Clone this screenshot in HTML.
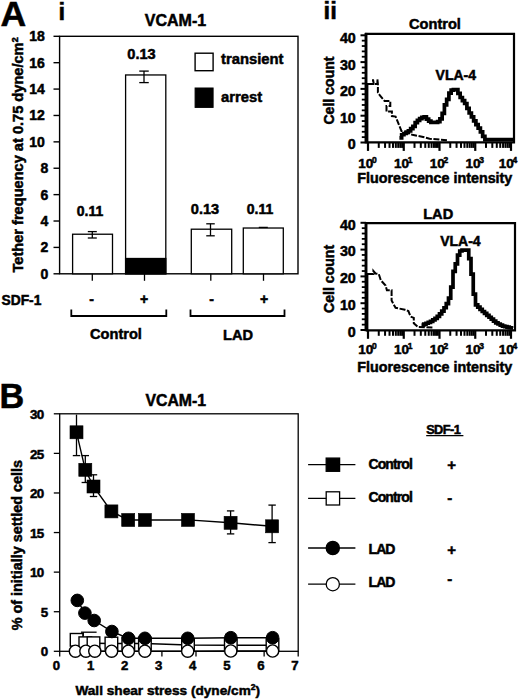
<!DOCTYPE html>
<html><head><meta charset="utf-8"><style>
html,body{margin:0;padding:0;background:#fff;}
svg{display:block;font-family:"Liberation Sans", sans-serif;font-weight:bold;}
</style></head><body>
<svg width="520" height="700" viewBox="0 0 520 700" stroke="#000" fill="#000">
<g stroke="none">
</g>
<g>
<text stroke-width="0.5" x="0.40" y="25.80" font-size="35.6" text-anchor="start" >A</text>
<text stroke-width="0.5" x="58.50" y="19.70" font-size="24" text-anchor="start" >i</text>
<text stroke-width="0.5" x="175.50" y="26.00" font-size="16" text-anchor="middle" >VCAM-1</text>
<rect x="59.6" y="36.3" width="238.4" height="237.5" fill="none" stroke-width="1.4"/>
<line x1="53.50" y1="273.80" x2="59.60" y2="273.80" stroke-width="1.4" />
<text stroke-width="0.5" x="48.20" y="278.80" font-size="14" text-anchor="end" >0</text>
<line x1="53.50" y1="247.41" x2="59.60" y2="247.41" stroke-width="1.4" />
<text stroke-width="0.5" x="48.20" y="252.41" font-size="14" text-anchor="end" >2</text>
<line x1="53.50" y1="221.02" x2="59.60" y2="221.02" stroke-width="1.4" />
<text stroke-width="0.5" x="48.20" y="226.02" font-size="14" text-anchor="end" >4</text>
<line x1="53.50" y1="194.63" x2="59.60" y2="194.63" stroke-width="1.4" />
<text stroke-width="0.5" x="48.20" y="199.63" font-size="14" text-anchor="end" >6</text>
<line x1="53.50" y1="168.24" x2="59.60" y2="168.24" stroke-width="1.4" />
<text stroke-width="0.5" x="48.20" y="173.24" font-size="14" text-anchor="end" >8</text>
<line x1="53.50" y1="141.86" x2="59.60" y2="141.86" stroke-width="1.4" />
<text stroke-width="0.5" x="44.80" y="146.86" font-size="14" text-anchor="end" >10</text>
<line x1="53.50" y1="115.47" x2="59.60" y2="115.47" stroke-width="1.4" />
<text stroke-width="0.5" x="44.80" y="120.47" font-size="14" text-anchor="end" >12</text>
<line x1="53.50" y1="89.08" x2="59.60" y2="89.08" stroke-width="1.4" />
<text stroke-width="0.5" x="44.80" y="94.08" font-size="14" text-anchor="end" >14</text>
<line x1="53.50" y1="62.69" x2="59.60" y2="62.69" stroke-width="1.4" />
<text stroke-width="0.5" x="44.80" y="67.69" font-size="14" text-anchor="end" >16</text>
<line x1="53.50" y1="36.30" x2="59.60" y2="36.30" stroke-width="1.4" />
<text stroke-width="0.5" x="44.80" y="41.30" font-size="14" text-anchor="end" >18</text>
<text stroke-width="0.5" transform="translate(22.6,272.5) rotate(-90)" font-size="14.6">Tether frequency at 0.75 dyne/cm<tspan font-size="9" dx="0.3" dy="-4.8">2</tspan></text>
<rect x="72.60" y="234.22" width="39.90" height="39.58" fill="#fff" stroke-width="1.3" />
<rect x="125.60" y="74.96" width="40.20" height="198.84" fill="#fff" stroke-width="1.3" />
<rect x="191.30" y="229.20" width="40.40" height="44.60" fill="#fff" stroke-width="1.3" />
<rect x="243.30" y="228.02" width="40.00" height="45.78" fill="#fff" stroke-width="1.3" />
<rect x="125.60" y="258.50" width="40.20" height="15.30" fill="#000" stroke-width="1.3" />
<line x1="92.30" y1="231.60" x2="92.30" y2="238.00" stroke-width="1.3" />
<line x1="87.80" y1="231.60" x2="96.80" y2="231.60" stroke-width="1.3" />
<line x1="87.80" y1="238.00" x2="96.80" y2="238.00" stroke-width="1.3" />
<line x1="144.00" y1="71.10" x2="144.00" y2="82.60" stroke-width="1.3" />
<line x1="139.25" y1="71.10" x2="148.75" y2="71.10" stroke-width="1.3" />
<line x1="139.25" y1="82.60" x2="148.75" y2="82.60" stroke-width="1.3" />
<line x1="210.50" y1="223.80" x2="210.50" y2="235.80" stroke-width="1.3" />
<line x1="206.25" y1="223.80" x2="214.75" y2="223.80" stroke-width="1.3" />
<line x1="206.25" y1="235.80" x2="214.75" y2="235.80" stroke-width="1.3" />
<line x1="258.80" y1="227.40" x2="267.80" y2="227.40" stroke-width="1.3" />
<line x1="92.30" y1="273.80" x2="92.30" y2="280.80" stroke-width="1.3" />
<line x1="144.50" y1="273.80" x2="144.50" y2="280.80" stroke-width="1.3" />
<line x1="210.80" y1="273.80" x2="210.80" y2="280.80" stroke-width="1.3" />
<line x1="263.50" y1="273.80" x2="263.50" y2="280.80" stroke-width="1.3" />
<text stroke-width="0.5" x="90.00" y="216.20" font-size="14" text-anchor="middle" >0.11</text>
<text stroke-width="0.5" x="141.50" y="58.80" font-size="14.6" text-anchor="middle" >0.13</text>
<text stroke-width="0.5" x="205.00" y="213.80" font-size="14.6" text-anchor="middle" >0.13</text>
<text stroke-width="0.5" x="260.00" y="213.80" font-size="14" text-anchor="middle" >0.11</text>
<rect x="195.10" y="53.20" width="18.00" height="17.50" fill="#fff" stroke-width="1.4" />
<rect x="195.10" y="88.00" width="18.00" height="19.40" fill="#000" stroke-width="1.0" />
<text stroke-width="0.5" x="221.00" y="63.50" font-size="14.8" text-anchor="start" >transient</text>
<text stroke-width="0.5" x="221.00" y="102.30" font-size="14.8" text-anchor="start" >arrest</text>
<text stroke-width="0.5" x="1.50" y="304.60" font-size="13.8" text-anchor="start" >SDF-1</text>
<text stroke-width="0.5" x="91.60" y="304.00" font-size="14" text-anchor="middle" >-</text>
<text stroke-width="0.5" x="144.00" y="304.00" font-size="14" text-anchor="middle" >+</text>
<text stroke-width="0.5" x="211.60" y="304.00" font-size="14" text-anchor="middle" >-</text>
<text stroke-width="0.5" x="264.00" y="304.00" font-size="14" text-anchor="middle" >+</text>
<polyline points="71.30,309.50 71.30,316.00 166.30,316.00 166.30,309.50" fill="none" stroke-width="1.8" />
<polyline points="190.50,309.50 190.50,316.00 284.50,316.00 284.50,309.50" fill="none" stroke-width="1.8" />
<text stroke-width="0.5" x="116.00" y="339.30" font-size="14.6" text-anchor="middle" >Control</text>
<text stroke-width="0.5" x="238.00" y="339.50" font-size="14.6" text-anchor="middle" >LAD</text>
<text stroke-width="0.5" x="323.50" y="19.20" font-size="24" text-anchor="start" >ii</text>
<text stroke-width="0.5" x="435.00" y="28.50" font-size="14.6" text-anchor="middle" >Control</text>
<path d="M366.0,142.4 V33.9 H514.0 V142.4 H366.0" fill="none" stroke-width="2.2"/>
<line x1="366.00" y1="32.90" x2="366.00" y2="143.40" stroke-width="2.8" />
<line x1="360.50" y1="142.50" x2="366.00" y2="142.50" stroke-width="2.0" />
<text stroke-width="0.5" x="355.80" y="149.00" font-size="14.3" text-anchor="end" >0</text>
<line x1="361.80" y1="137.14" x2="366.00" y2="137.14" stroke-width="1.8" />
<line x1="361.80" y1="131.78" x2="366.00" y2="131.78" stroke-width="1.8" />
<line x1="361.80" y1="126.42" x2="366.00" y2="126.42" stroke-width="1.8" />
<line x1="361.80" y1="121.06" x2="366.00" y2="121.06" stroke-width="1.8" />
<line x1="360.50" y1="115.70" x2="366.00" y2="115.70" stroke-width="2.0" />
<text stroke-width="0.5" x="355.80" y="122.50" font-size="14.3" text-anchor="end" >10</text>
<line x1="361.80" y1="110.34" x2="366.00" y2="110.34" stroke-width="1.8" />
<line x1="361.80" y1="104.98" x2="366.00" y2="104.98" stroke-width="1.8" />
<line x1="361.80" y1="99.62" x2="366.00" y2="99.62" stroke-width="1.8" />
<line x1="361.80" y1="94.26" x2="366.00" y2="94.26" stroke-width="1.8" />
<line x1="360.50" y1="88.90" x2="366.00" y2="88.90" stroke-width="2.0" />
<text stroke-width="0.5" x="355.80" y="96.00" font-size="14.3" text-anchor="end" >20</text>
<line x1="361.80" y1="83.54" x2="366.00" y2="83.54" stroke-width="1.8" />
<line x1="361.80" y1="78.18" x2="366.00" y2="78.18" stroke-width="1.8" />
<line x1="361.80" y1="72.82" x2="366.00" y2="72.82" stroke-width="1.8" />
<line x1="361.80" y1="67.46" x2="366.00" y2="67.46" stroke-width="1.8" />
<line x1="360.50" y1="62.10" x2="366.00" y2="62.10" stroke-width="2.0" />
<text stroke-width="0.5" x="355.80" y="69.50" font-size="14.3" text-anchor="end" >30</text>
<line x1="361.80" y1="56.74" x2="366.00" y2="56.74" stroke-width="1.8" />
<line x1="361.80" y1="51.38" x2="366.00" y2="51.38" stroke-width="1.8" />
<line x1="361.80" y1="46.02" x2="366.00" y2="46.02" stroke-width="1.8" />
<line x1="361.80" y1="40.66" x2="366.00" y2="40.66" stroke-width="1.8" />
<line x1="360.50" y1="35.30" x2="366.00" y2="35.30" stroke-width="2.0" />
<text stroke-width="0.5" x="355.80" y="43.00" font-size="14.3" text-anchor="end" >40</text>
<line x1="368.00" y1="142.40" x2="368.00" y2="150.90" stroke-width="2.2" />
<line x1="378.76" y1="142.40" x2="378.76" y2="147.90" stroke-width="2.0" />
<line x1="385.06" y1="142.40" x2="385.06" y2="147.90" stroke-width="2.0" />
<line x1="389.52" y1="142.40" x2="389.52" y2="147.90" stroke-width="2.0" />
<line x1="392.99" y1="142.40" x2="392.99" y2="147.90" stroke-width="2.0" />
<line x1="395.82" y1="142.40" x2="395.82" y2="147.90" stroke-width="2.0" />
<line x1="398.21" y1="142.40" x2="398.21" y2="147.90" stroke-width="2.0" />
<line x1="400.29" y1="142.40" x2="400.29" y2="147.90" stroke-width="2.0" />
<line x1="402.11" y1="142.40" x2="402.11" y2="147.90" stroke-width="2.0" />
<text stroke-width="0.5" x="367.50" y="167.50" font-size="13.5" text-anchor="middle">10<tspan font-size="8.5" dx="-1.5" dy="-5">0</tspan></text>
<line x1="403.75" y1="142.40" x2="403.75" y2="150.90" stroke-width="2.2" />
<line x1="414.51" y1="142.40" x2="414.51" y2="147.90" stroke-width="2.0" />
<line x1="420.81" y1="142.40" x2="420.81" y2="147.90" stroke-width="2.0" />
<line x1="425.27" y1="142.40" x2="425.27" y2="147.90" stroke-width="2.0" />
<line x1="428.74" y1="142.40" x2="428.74" y2="147.90" stroke-width="2.0" />
<line x1="431.57" y1="142.40" x2="431.57" y2="147.90" stroke-width="2.0" />
<line x1="433.96" y1="142.40" x2="433.96" y2="147.90" stroke-width="2.0" />
<line x1="436.04" y1="142.40" x2="436.04" y2="147.90" stroke-width="2.0" />
<line x1="437.86" y1="142.40" x2="437.86" y2="147.90" stroke-width="2.0" />
<text stroke-width="0.5" x="403.25" y="167.50" font-size="13.5" text-anchor="middle">10<tspan font-size="8.5" dx="-1.5" dy="-5">1</tspan></text>
<line x1="439.50" y1="142.40" x2="439.50" y2="150.90" stroke-width="2.2" />
<line x1="450.26" y1="142.40" x2="450.26" y2="147.90" stroke-width="2.0" />
<line x1="456.56" y1="142.40" x2="456.56" y2="147.90" stroke-width="2.0" />
<line x1="461.02" y1="142.40" x2="461.02" y2="147.90" stroke-width="2.0" />
<line x1="464.49" y1="142.40" x2="464.49" y2="147.90" stroke-width="2.0" />
<line x1="467.32" y1="142.40" x2="467.32" y2="147.90" stroke-width="2.0" />
<line x1="469.71" y1="142.40" x2="469.71" y2="147.90" stroke-width="2.0" />
<line x1="471.79" y1="142.40" x2="471.79" y2="147.90" stroke-width="2.0" />
<line x1="473.61" y1="142.40" x2="473.61" y2="147.90" stroke-width="2.0" />
<text stroke-width="0.5" x="439.00" y="167.50" font-size="13.5" text-anchor="middle">10<tspan font-size="8.5" dx="-1.5" dy="-5">2</tspan></text>
<line x1="475.25" y1="142.40" x2="475.25" y2="150.90" stroke-width="2.2" />
<line x1="486.01" y1="142.40" x2="486.01" y2="147.90" stroke-width="2.0" />
<line x1="492.31" y1="142.40" x2="492.31" y2="147.90" stroke-width="2.0" />
<line x1="496.77" y1="142.40" x2="496.77" y2="147.90" stroke-width="2.0" />
<line x1="500.24" y1="142.40" x2="500.24" y2="147.90" stroke-width="2.0" />
<line x1="503.07" y1="142.40" x2="503.07" y2="147.90" stroke-width="2.0" />
<line x1="505.46" y1="142.40" x2="505.46" y2="147.90" stroke-width="2.0" />
<line x1="507.54" y1="142.40" x2="507.54" y2="147.90" stroke-width="2.0" />
<line x1="509.36" y1="142.40" x2="509.36" y2="147.90" stroke-width="2.0" />
<text stroke-width="0.5" x="474.75" y="167.50" font-size="13.5" text-anchor="middle">10<tspan font-size="8.5" dx="-1.5" dy="-5">3</tspan></text>
<line x1="511.00" y1="142.40" x2="511.00" y2="150.90" stroke-width="2.2" />
<text stroke-width="0.5" x="508.00" y="167.50" font-size="13.5" text-anchor="middle">10<tspan font-size="8.5" dx="-1.5" dy="-5">4</tspan></text>
<text stroke-width="0.5" x="434.80" y="182.70" font-size="14.3" text-anchor="middle" >Fluorescence intensity</text>
<text stroke-width="0.5" x="435.60" y="80.00" font-size="14" text-anchor="start" >VLA-4</text>
<text stroke-width="0.5" transform="translate(333.6,90.50) rotate(-90)" font-size="14.1" text-anchor="middle">Cell count</text>
<line x1="367.20" y1="83.00" x2="367.20" y2="142.40" stroke-width="2.4" />
<polyline points="368.00,84.00 373.00,84.00 373.00,79.30 373.80,84.00 377.40,84.00 377.40,79.30 377.90,84.00 377.90,92.50 380.10,95.70 383.80,100.00 384.60,101.00 390.30,101.00 390.30,106.00 386.50,106.00 386.50,111.50 391.90,111.50 391.90,116.10 395.60,116.60 401.50,131.10 403.70,131.80 412.30,134.80 422.00,136.70 429.60,138.70 447.00,140.20" fill="none" stroke-width="2.0" stroke-dasharray="6 1.6"/>
<path d="M399.40,137.96 V137.96 H401.65 V134.76 H403.90 V133.48 H406.15 V132.21 H408.40 V130.88 H410.65 V128.62 H412.90 V126.38 H415.15 V122.69 H417.40 V120.28 H419.65 V118.66 H421.90 V117.43 H424.15 V116.97 H426.40 V119.22 H428.65 V121.13 H430.90 V122.30 H433.15 V122.30 H435.40 V122.30 H437.65 V121.70 H439.90 V118.86 H442.15 V113.36 H444.40 V104.85 H446.65 V99.39 H448.90 V93.20 H451.15 V90.09 H453.40 V89.60 H455.65 V89.60 H457.90 V93.45 H460.15 V97.50 H462.40 V100.71 H464.65 V103.48 H466.90 V108.43 H469.15 V112.99 H471.40 V116.86 H473.65 V120.81 H475.90 V124.68 H478.15 V128.03 H480.40 V131.85 H482.65 V136.35 H484.90 V139.60 H487.15 V139.60 H489.40 V139.60 H491.65 V139.60 H493.90 V139.60 H496.15 V139.60 H498.40 V139.60 H500.65 V139.60 H502.90 V139.60 H505.15 V139.60 H507.40 V139.60 H509.65 V139.60 H511.90 V139.60 H513.00" fill="none" stroke-width="3.7"/>
<text stroke-width="0.5" x="438.20" y="218.50" font-size="14.6" text-anchor="middle" >LAD</text>
<path d="M366.0,330.3 V223.2 H515.0 V330.3 H366.0" fill="none" stroke-width="2.2"/>
<line x1="366.00" y1="222.20" x2="366.00" y2="331.30" stroke-width="2.8" />
<line x1="360.50" y1="330.00" x2="366.00" y2="330.00" stroke-width="2.0" />
<text stroke-width="0.5" x="355.80" y="336.80" font-size="14.3" text-anchor="end" >0</text>
<line x1="361.80" y1="324.64" x2="366.00" y2="324.64" stroke-width="1.8" />
<line x1="361.80" y1="319.28" x2="366.00" y2="319.28" stroke-width="1.8" />
<line x1="361.80" y1="313.92" x2="366.00" y2="313.92" stroke-width="1.8" />
<line x1="361.80" y1="308.56" x2="366.00" y2="308.56" stroke-width="1.8" />
<line x1="360.50" y1="303.20" x2="366.00" y2="303.20" stroke-width="2.0" />
<text stroke-width="0.5" x="355.80" y="310.00" font-size="14.3" text-anchor="end" >10</text>
<line x1="361.80" y1="297.84" x2="366.00" y2="297.84" stroke-width="1.8" />
<line x1="361.80" y1="292.48" x2="366.00" y2="292.48" stroke-width="1.8" />
<line x1="361.80" y1="287.12" x2="366.00" y2="287.12" stroke-width="1.8" />
<line x1="361.80" y1="281.76" x2="366.00" y2="281.76" stroke-width="1.8" />
<line x1="360.50" y1="276.40" x2="366.00" y2="276.40" stroke-width="2.0" />
<text stroke-width="0.5" x="355.80" y="283.20" font-size="14.3" text-anchor="end" >20</text>
<line x1="361.80" y1="271.04" x2="366.00" y2="271.04" stroke-width="1.8" />
<line x1="361.80" y1="265.68" x2="366.00" y2="265.68" stroke-width="1.8" />
<line x1="361.80" y1="260.32" x2="366.00" y2="260.32" stroke-width="1.8" />
<line x1="361.80" y1="254.96" x2="366.00" y2="254.96" stroke-width="1.8" />
<line x1="360.50" y1="249.60" x2="366.00" y2="249.60" stroke-width="2.0" />
<text stroke-width="0.5" x="355.80" y="256.40" font-size="14.3" text-anchor="end" >30</text>
<line x1="361.80" y1="244.24" x2="366.00" y2="244.24" stroke-width="1.8" />
<line x1="361.80" y1="238.88" x2="366.00" y2="238.88" stroke-width="1.8" />
<line x1="361.80" y1="233.52" x2="366.00" y2="233.52" stroke-width="1.8" />
<line x1="361.80" y1="228.16" x2="366.00" y2="228.16" stroke-width="1.8" />
<line x1="360.50" y1="222.80" x2="366.00" y2="222.80" stroke-width="2.0" />
<text stroke-width="0.5" x="355.80" y="229.60" font-size="14.3" text-anchor="end" >40</text>
<line x1="368.00" y1="330.30" x2="368.00" y2="338.80" stroke-width="2.2" />
<line x1="378.76" y1="330.30" x2="378.76" y2="335.80" stroke-width="2.0" />
<line x1="385.06" y1="330.30" x2="385.06" y2="335.80" stroke-width="2.0" />
<line x1="389.52" y1="330.30" x2="389.52" y2="335.80" stroke-width="2.0" />
<line x1="392.99" y1="330.30" x2="392.99" y2="335.80" stroke-width="2.0" />
<line x1="395.82" y1="330.30" x2="395.82" y2="335.80" stroke-width="2.0" />
<line x1="398.21" y1="330.30" x2="398.21" y2="335.80" stroke-width="2.0" />
<line x1="400.29" y1="330.30" x2="400.29" y2="335.80" stroke-width="2.0" />
<line x1="402.11" y1="330.30" x2="402.11" y2="335.80" stroke-width="2.0" />
<text stroke-width="0.5" x="367.50" y="354.00" font-size="13.5" text-anchor="middle">10<tspan font-size="8.5" dx="-1.5" dy="-5">0</tspan></text>
<line x1="403.75" y1="330.30" x2="403.75" y2="338.80" stroke-width="2.2" />
<line x1="414.51" y1="330.30" x2="414.51" y2="335.80" stroke-width="2.0" />
<line x1="420.81" y1="330.30" x2="420.81" y2="335.80" stroke-width="2.0" />
<line x1="425.27" y1="330.30" x2="425.27" y2="335.80" stroke-width="2.0" />
<line x1="428.74" y1="330.30" x2="428.74" y2="335.80" stroke-width="2.0" />
<line x1="431.57" y1="330.30" x2="431.57" y2="335.80" stroke-width="2.0" />
<line x1="433.96" y1="330.30" x2="433.96" y2="335.80" stroke-width="2.0" />
<line x1="436.04" y1="330.30" x2="436.04" y2="335.80" stroke-width="2.0" />
<line x1="437.86" y1="330.30" x2="437.86" y2="335.80" stroke-width="2.0" />
<text stroke-width="0.5" x="403.25" y="354.00" font-size="13.5" text-anchor="middle">10<tspan font-size="8.5" dx="-1.5" dy="-5">1</tspan></text>
<line x1="439.50" y1="330.30" x2="439.50" y2="338.80" stroke-width="2.2" />
<line x1="450.26" y1="330.30" x2="450.26" y2="335.80" stroke-width="2.0" />
<line x1="456.56" y1="330.30" x2="456.56" y2="335.80" stroke-width="2.0" />
<line x1="461.02" y1="330.30" x2="461.02" y2="335.80" stroke-width="2.0" />
<line x1="464.49" y1="330.30" x2="464.49" y2="335.80" stroke-width="2.0" />
<line x1="467.32" y1="330.30" x2="467.32" y2="335.80" stroke-width="2.0" />
<line x1="469.71" y1="330.30" x2="469.71" y2="335.80" stroke-width="2.0" />
<line x1="471.79" y1="330.30" x2="471.79" y2="335.80" stroke-width="2.0" />
<line x1="473.61" y1="330.30" x2="473.61" y2="335.80" stroke-width="2.0" />
<text stroke-width="0.5" x="439.00" y="354.00" font-size="13.5" text-anchor="middle">10<tspan font-size="8.5" dx="-1.5" dy="-5">2</tspan></text>
<line x1="475.25" y1="330.30" x2="475.25" y2="338.80" stroke-width="2.2" />
<line x1="486.01" y1="330.30" x2="486.01" y2="335.80" stroke-width="2.0" />
<line x1="492.31" y1="330.30" x2="492.31" y2="335.80" stroke-width="2.0" />
<line x1="496.77" y1="330.30" x2="496.77" y2="335.80" stroke-width="2.0" />
<line x1="500.24" y1="330.30" x2="500.24" y2="335.80" stroke-width="2.0" />
<line x1="503.07" y1="330.30" x2="503.07" y2="335.80" stroke-width="2.0" />
<line x1="505.46" y1="330.30" x2="505.46" y2="335.80" stroke-width="2.0" />
<line x1="507.54" y1="330.30" x2="507.54" y2="335.80" stroke-width="2.0" />
<line x1="509.36" y1="330.30" x2="509.36" y2="335.80" stroke-width="2.0" />
<text stroke-width="0.5" x="474.75" y="354.00" font-size="13.5" text-anchor="middle">10<tspan font-size="8.5" dx="-1.5" dy="-5">3</tspan></text>
<line x1="511.00" y1="330.30" x2="511.00" y2="338.80" stroke-width="2.2" />
<text stroke-width="0.5" x="508.00" y="354.00" font-size="13.5" text-anchor="middle">10<tspan font-size="8.5" dx="-1.5" dy="-5">4</tspan></text>
<text stroke-width="0.5" x="434.80" y="372.30" font-size="14.3" text-anchor="middle" >Fluorescence intensity</text>
<text stroke-width="0.5" x="440.20" y="245.80" font-size="14" text-anchor="start" >VLA-4</text>
<text stroke-width="0.5" transform="translate(333.6,278.90) rotate(-90)" font-size="14.1" text-anchor="middle">Cell count</text>
<line x1="367.20" y1="273.00" x2="367.20" y2="330.30" stroke-width="2.4" />
<polyline points="368.00,274.00 373.40,274.00 373.40,271.00 375.50,273.50 378.80,274.10 380.80,280.20 385.60,285.60 386.90,290.30 391.60,290.30 391.60,300.40 393.60,304.40 395.60,307.80 405.00,309.80 408.40,311.10 410.50,316.50 413.80,317.90 413.80,323.30 418.00,327.00 433.00,327.50" fill="none" stroke-width="2.0" stroke-dasharray="6 1.6"/>
<path d="M421.50,325.06 V325.06 H423.75 V324.08 H426.00 V323.23 H428.25 V322.39 H430.50 V321.42 H432.75 V319.92 H435.00 V318.42 H437.25 V316.47 H439.50 V313.83 H441.75 V311.19 H444.00 V307.73 H446.25 V303.69 H448.50 V298.07 H450.75 V287.13 H453.00 V271.42 H455.25 V263.90 H457.50 V255.17 H459.75 V250.99 H462.00 V250.20 H464.25 V250.20 H466.50 V250.20 H468.75 V258.64 H471.00 V274.14 H473.25 V294.18 H475.50 V304.82 H477.75 V307.07 H480.00 V309.32 H482.25 V311.52 H484.50 V313.43 H486.75 V315.35 H489.00 V317.27 H491.25 V319.16 H493.50 V321.05 H495.75 V322.89 H498.00 V324.01 H500.25 V325.14 H502.50 V326.12 H504.75 V326.66 H507.00 V327.20 H509.25 V327.73 H511.50 V328.00 H513.00" fill="none" stroke-width="3.7"/>
<text stroke-width="0.5" x="-0.50" y="407.70" font-size="34.2" text-anchor="start" >B</text>
<text stroke-width="0.5" x="175.80" y="406.20" font-size="15.8" text-anchor="middle" >VCAM-1</text>
<rect x="59.7" y="413.8" width="238.5" height="237.49999999999994" fill="none" stroke-width="1.3"/>
<line x1="53.80" y1="651.30" x2="59.70" y2="651.30" stroke-width="1.3" />
<text stroke-width="0.5" x="48.30" y="656.30" font-size="13.4" text-anchor="end" >0</text>
<line x1="53.80" y1="611.72" x2="59.70" y2="611.72" stroke-width="1.3" />
<text stroke-width="0.5" x="48.30" y="616.72" font-size="13.4" text-anchor="end" >5</text>
<line x1="53.80" y1="572.13" x2="59.70" y2="572.13" stroke-width="1.3" />
<text stroke-width="0.5" x="43.60" y="577.33" font-size="13.4" text-anchor="end" letter-spacing="-0.7">10</text>
<line x1="53.80" y1="532.55" x2="59.70" y2="532.55" stroke-width="1.3" />
<text stroke-width="0.5" x="43.60" y="537.75" font-size="13.4" text-anchor="end" letter-spacing="-0.7">15</text>
<line x1="53.80" y1="492.97" x2="59.70" y2="492.97" stroke-width="1.3" />
<text stroke-width="0.5" x="43.60" y="498.17" font-size="13.4" text-anchor="end" letter-spacing="-0.7">20</text>
<line x1="53.80" y1="453.38" x2="59.70" y2="453.38" stroke-width="1.3" />
<text stroke-width="0.5" x="43.60" y="458.58" font-size="13.4" text-anchor="end" letter-spacing="-0.7">25</text>
<line x1="53.80" y1="413.80" x2="59.70" y2="413.80" stroke-width="1.3" />
<text stroke-width="0.5" x="43.60" y="419.00" font-size="13.4" text-anchor="end" letter-spacing="-0.7">30</text>
<line x1="59.70" y1="651.30" x2="59.70" y2="656.50" stroke-width="1.3" />
<text stroke-width="0.5" x="56.50" y="669.80" font-size="13.2" text-anchor="middle" >0</text>
<line x1="93.77" y1="651.30" x2="93.77" y2="656.50" stroke-width="1.3" />
<text stroke-width="0.5" x="90.57" y="669.80" font-size="13.2" text-anchor="middle" >1</text>
<line x1="127.84" y1="651.30" x2="127.84" y2="656.50" stroke-width="1.3" />
<text stroke-width="0.5" x="124.64" y="669.80" font-size="13.2" text-anchor="middle" >2</text>
<line x1="161.91" y1="651.30" x2="161.91" y2="656.50" stroke-width="1.3" />
<text stroke-width="0.5" x="158.71" y="669.80" font-size="13.2" text-anchor="middle" >3</text>
<line x1="195.99" y1="651.30" x2="195.99" y2="656.50" stroke-width="1.3" />
<text stroke-width="0.5" x="192.79" y="669.80" font-size="13.2" text-anchor="middle" >4</text>
<line x1="230.06" y1="651.30" x2="230.06" y2="656.50" stroke-width="1.3" />
<text stroke-width="0.5" x="226.86" y="669.80" font-size="13.2" text-anchor="middle" >5</text>
<line x1="264.13" y1="651.30" x2="264.13" y2="656.50" stroke-width="1.3" />
<text stroke-width="0.5" x="260.93" y="669.80" font-size="13.2" text-anchor="middle" >6</text>
<line x1="298.20" y1="651.30" x2="298.20" y2="656.50" stroke-width="1.3" />
<text stroke-width="0.5" x="295.00" y="669.80" font-size="13.2" text-anchor="middle" >7</text>
<text stroke-width="0.5" x="75.4" y="695.0" font-size="13.65" letter-spacing="0">Wall shear stress (dyne/cm<tspan font-size="8.5" dy="-5.5">2</tspan><tspan dy="5.5">)</tspan></text>
<text stroke-width="0.5" transform="translate(21.7,630.3) rotate(-90)" font-size="14.4" letter-spacing="0">% of initially settled cells</text>
<line x1="83.30" y1="632.20" x2="83.30" y2="636.50" stroke-width="1.3" />
<line x1="81.00" y1="632.20" x2="96.60" y2="632.20" stroke-width="1.3" />
<polyline points="76.60,639.80 85.30,643.20 93.50,643.20 111.40,643.50 128.30,643.50 144.90,643.50 188.00,645.00 230.80,645.20 272.50,645.20" fill="none" stroke-width="1.4" />
<rect x="70.30" y="633.50" width="12.60" height="12.60" fill="#fff" stroke-width="1.4" />
<rect x="79.00" y="636.90" width="12.60" height="12.60" fill="#fff" stroke-width="1.4" />
<rect x="87.20" y="636.90" width="12.60" height="12.60" fill="#fff" stroke-width="1.4" />
<rect x="105.10" y="637.20" width="12.60" height="12.60" fill="#fff" stroke-width="1.4" />
<rect x="122.00" y="637.20" width="12.60" height="12.60" fill="#fff" stroke-width="1.4" />
<rect x="138.60" y="637.20" width="12.60" height="12.60" fill="#fff" stroke-width="1.4" />
<rect x="181.70" y="638.70" width="12.60" height="12.60" fill="#fff" stroke-width="1.4" />
<rect x="224.50" y="638.90" width="12.60" height="12.60" fill="#fff" stroke-width="1.4" />
<rect x="266.20" y="638.90" width="12.60" height="12.60" fill="#fff" stroke-width="1.4" />
<polyline points="77.30,600.40 84.90,613.10 94.20,620.50 111.90,631.50 128.50,638.30 144.90,638.30 187.70,638.30 230.80,637.70 272.60,637.70" fill="none" stroke-width="1.4" />
<circle cx="77.30" cy="600.40" r="6.30" fill="#000" stroke-width="1.0"/>
<circle cx="84.90" cy="613.10" r="6.30" fill="#000" stroke-width="1.0"/>
<circle cx="94.20" cy="620.50" r="6.30" fill="#000" stroke-width="1.0"/>
<circle cx="111.90" cy="631.50" r="6.30" fill="#000" stroke-width="1.0"/>
<circle cx="128.50" cy="638.30" r="6.30" fill="#000" stroke-width="1.0"/>
<circle cx="144.90" cy="638.30" r="6.30" fill="#000" stroke-width="1.0"/>
<circle cx="187.70" cy="638.30" r="6.30" fill="#000" stroke-width="1.0"/>
<circle cx="230.80" cy="637.70" r="6.30" fill="#000" stroke-width="1.0"/>
<circle cx="272.60" cy="637.70" r="6.30" fill="#000" stroke-width="1.0"/>
<polyline points="75.40,651.20 85.90,651.20 94.80,651.20 111.60,651.20 128.30,651.20 144.90,651.20 187.70,651.20 230.80,651.00 272.60,651.00" fill="none" stroke-width="1.4" />
<circle cx="75.40" cy="651.20" r="6.10" fill="#fff" stroke-width="1.4"/>
<circle cx="85.90" cy="651.20" r="6.10" fill="#fff" stroke-width="1.4"/>
<circle cx="94.80" cy="651.20" r="6.10" fill="#fff" stroke-width="1.4"/>
<circle cx="111.60" cy="651.20" r="6.10" fill="#fff" stroke-width="1.4"/>
<circle cx="128.30" cy="651.20" r="6.10" fill="#fff" stroke-width="1.4"/>
<circle cx="144.90" cy="651.20" r="6.10" fill="#fff" stroke-width="1.4"/>
<circle cx="187.70" cy="651.20" r="6.10" fill="#fff" stroke-width="1.4"/>
<circle cx="230.80" cy="651.00" r="6.10" fill="#fff" stroke-width="1.4"/>
<circle cx="272.60" cy="651.00" r="6.10" fill="#fff" stroke-width="1.4"/>
<line x1="76.50" y1="414.60" x2="76.50" y2="455.60" stroke-width="1.3" />
<line x1="72.80" y1="455.60" x2="80.20" y2="455.60" stroke-width="1.3" />
<line x1="85.30" y1="455.60" x2="85.30" y2="482.50" stroke-width="1.3" />
<line x1="81.60" y1="455.60" x2="89.00" y2="455.60" stroke-width="1.3" />
<line x1="81.60" y1="482.50" x2="89.00" y2="482.50" stroke-width="1.3" />
<line x1="93.50" y1="474.80" x2="93.50" y2="496.50" stroke-width="1.3" />
<line x1="89.80" y1="474.80" x2="97.20" y2="474.80" stroke-width="1.3" />
<line x1="89.80" y1="496.50" x2="97.20" y2="496.50" stroke-width="1.3" />
<line x1="230.60" y1="510.90" x2="230.60" y2="533.90" stroke-width="1.3" />
<line x1="226.90" y1="510.90" x2="234.30" y2="510.90" stroke-width="1.3" />
<line x1="226.90" y1="533.90" x2="234.30" y2="533.90" stroke-width="1.3" />
<line x1="272.10" y1="505.10" x2="272.10" y2="542.60" stroke-width="1.3" />
<line x1="268.40" y1="505.10" x2="275.80" y2="505.10" stroke-width="1.3" />
<line x1="268.40" y1="542.60" x2="275.80" y2="542.60" stroke-width="1.3" />
<polyline points="76.50,432.30 85.30,469.80 93.50,486.50 111.40,511.40 128.20,520.00 144.90,520.00 188.00,519.90 230.60,522.80 272.10,526.30" fill="none" stroke-width="1.4" />
<rect x="70.00" y="425.80" width="13.00" height="13.00" fill="#000" stroke-width="0.6" />
<rect x="78.80" y="463.30" width="13.00" height="13.00" fill="#000" stroke-width="0.6" />
<rect x="87.00" y="480.00" width="13.00" height="13.00" fill="#000" stroke-width="0.6" />
<rect x="104.90" y="504.90" width="13.00" height="13.00" fill="#000" stroke-width="0.6" />
<rect x="121.70" y="513.50" width="13.00" height="13.00" fill="#000" stroke-width="0.6" />
<rect x="138.40" y="513.50" width="13.00" height="13.00" fill="#000" stroke-width="0.6" />
<rect x="181.50" y="513.40" width="13.00" height="13.00" fill="#000" stroke-width="0.6" />
<rect x="224.10" y="516.30" width="13.00" height="13.00" fill="#000" stroke-width="0.6" />
<rect x="265.60" y="519.80" width="13.00" height="13.00" fill="#000" stroke-width="0.6" />
<text stroke-width="0.5" x="426.20" y="433.50" font-size="12.8" text-anchor="start" letter-spacing="-0.6">SDF-1</text>
<line x1="426.20" y1="435.60" x2="463.40" y2="435.60" stroke-width="1.4" />
<line x1="308.10" y1="464.70" x2="355.40" y2="464.70" stroke-width="1.3" />
<rect x="326.20" y="458.10" width="13.40" height="13.20" fill="#000" stroke-width="1.3" />
<text stroke-width="0.5" x="368.50" y="468.80" font-size="14" text-anchor="start" letter-spacing="-0.9">Control</text>
<text stroke-width="0.5" x="451.60" y="469.80" font-size="15" text-anchor="middle" >+</text>
<line x1="308.10" y1="498.40" x2="355.40" y2="498.40" stroke-width="1.3" />
<rect x="326.20" y="491.80" width="13.40" height="13.20" fill="#fff" stroke-width="1.3" />
<text stroke-width="0.5" x="368.50" y="502.30" font-size="14" text-anchor="start" letter-spacing="-0.9">Control</text>
<text stroke-width="0.5" x="449.80" y="503.30" font-size="15" text-anchor="middle" >-</text>
<line x1="308.10" y1="548.00" x2="355.40" y2="548.00" stroke-width="1.3" />
<circle cx="332.80" cy="548.00" r="6.60" fill="#000" stroke-width="1.3"/>
<text stroke-width="0.5" x="368.50" y="553.80" font-size="14" text-anchor="start" letter-spacing="-0.9">LAD</text>
<text stroke-width="0.5" x="451.60" y="554.80" font-size="15" text-anchor="middle" >+</text>
<line x1="308.10" y1="584.20" x2="355.40" y2="584.20" stroke-width="1.3" />
<circle cx="332.80" cy="584.20" r="6.60" fill="#fff" stroke-width="1.3"/>
<text stroke-width="0.5" x="368.50" y="586.50" font-size="14" text-anchor="start" letter-spacing="-0.9">LAD</text>
<text stroke-width="0.5" x="449.80" y="584.30" font-size="15" text-anchor="middle" >-</text>
</g>
</svg>
</body></html>
